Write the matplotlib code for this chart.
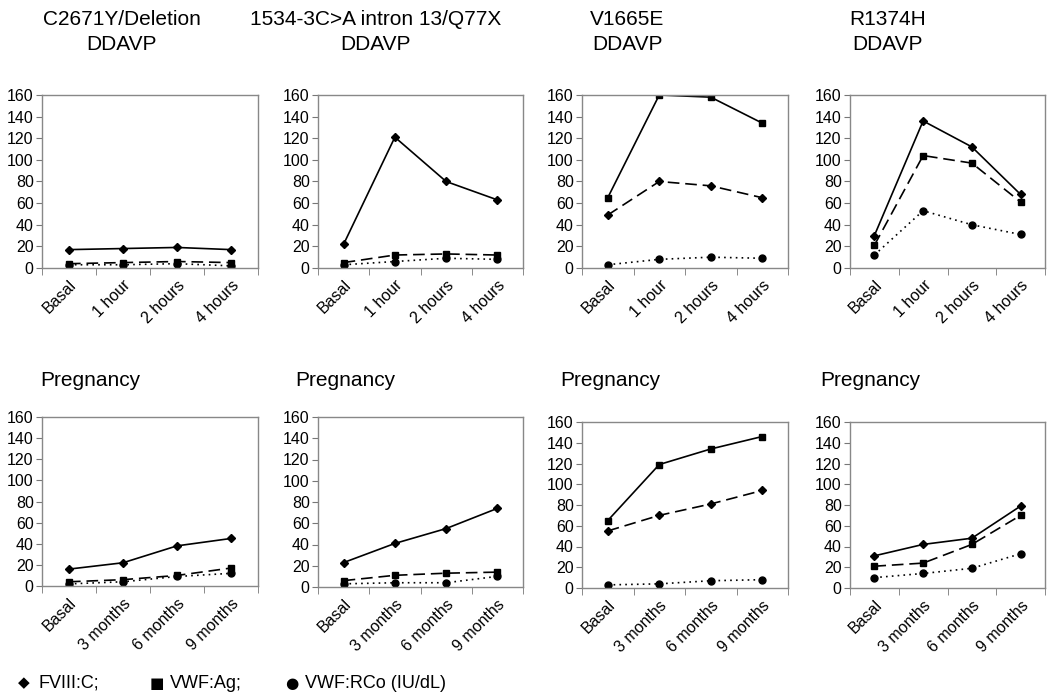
import matplotlib.pyplot as plt

plt.rcParams['font.family'] = ['Liberation Sans', 'DejaVu Sans']

ddavp_labels = ['Basal', '1 hour', '2 hours', '4 hours']
preg_labels = ['Basal', '3 months', '6 months', '9 months']

titles_top = ['C2671Y/Deletion\nDDAVP', '1534-3C>A intron 13/Q77X\nDDAVP', 'V1665E\nDDAVP', 'R1374H\nDDAVP']

# DDAVP values (IU/dL)
ddavp_fviii = [[17, 18, 19, 17], [22, 121, 80, 63], [49, 80, 76, 65], [30, 136, 112, 68]]
ddavp_ag = [[4, 5, 6, 5], [5, 12, 13, 12], [65, 160, 158, 134], [21, 104, 97, 61]]
ddavp_rco = [[3, 3, 4, 2], [3, 6, 9, 8], [3, 8, 10, 9], [12, 53, 40, 31]]

# Pregnancy values (IU/dL)
preg_fviii = [[16, 22, 38, 45], [23, 41, 55, 74], [55, 70, 81, 94], [31, 42, 48, 79]]
preg_ag = [[4, 6, 10, 17], [6, 11, 13, 14], [65, 119, 134, 146], [21, 24, 42, 70]]
preg_rco = [[2, 4, 9, 12], [3, 4, 4, 10], [3, 4, 7, 8], [10, 14, 19, 33]]

legend_symbols = ['\u25c6', '\u25a0', '\u25cf']
legend_texts = ['FVIII:C;', 'VWF:Ag;', 'VWF:RCo (IU/dL)']

W, H = 1047, 696
fig = plt.figure(figsize=(W / 100, H / 100), dpi=100)

lefts = [42, 318, 582, 850]
rights = [258, 523, 788, 1045]
top_row = [(95, 268)] * 4
bot_row = [(417, 586), (417, 587), (422, 588), (422, 588)]
title_x_top = [122, 376, 627, 888]
title_x_bot = [90, 345, 610, 870]

dash = (0, (7, 3.5))
dot = (0, (1, 2.5))


def draw(ax, labels, fviii, ag, rco, swap):
    x = [1, 2, 3, 4]
    lw = 1.2
    if swap:
        ax.plot(x, ag, color='black', lw=lw, ls='-', marker='s', ms=5)
        ax.plot(x, fviii, color='black', lw=lw, ls=dash, marker='D', ms=4)
    else:
        ax.plot(x, fviii, color='black', lw=lw, ls='-', marker='D', ms=4)
        ax.plot(x, ag, color='black', lw=lw, ls=dash, marker='s', ms=5)
    ax.plot(x, rco, color='black', lw=lw, ls=dot, marker='o', ms=5)
    ax.set_xlim(0.5, 4.5)
    ax.set_ylim(0, 160)
    ax.set_yticks(range(0, 161, 20))
    ax.set_xticks(x)
    ax.set_xticklabels(labels, rotation=45, ha='right', rotation_mode='anchor')
    ax.tick_params(axis='x', length=0, pad=7)
    ax.set_xticks([0.5, 1.5, 2.5, 3.5, 4.5], minor=True)
    ax.tick_params(axis='x', which='minor', length=5, color='#777777')
    ax.tick_params(axis='y', length=4, color='#777777', pad=2)
    ax.tick_params(labelsize=11.5)
    for s in ax.spines.values():
        s.set_color('#888888')
        s.set_linewidth(1)


for i in range(4):
    t, b = top_row[i]
    ax = fig.add_axes([lefts[i] / W, 1 - b / H, (rights[i] - lefts[i]) / W, (b - t) / H])
    draw(ax, ddavp_labels, ddavp_fviii[i], ddavp_ag[i], ddavp_rco[i], i == 2)
    fig.text(title_x_top[i] / W, 1 - 32 / H, titles_top[i], ha='center', va='center',
             fontsize=15, linespacing=1.45)

    t, b = bot_row[i]
    ax = fig.add_axes([lefts[i] / W, 1 - b / H, (rights[i] - lefts[i]) / W, (b - t) / H])
    draw(ax, preg_labels, preg_fviii[i], preg_ag[i], preg_rco[i], i == 2)
    fig.text(title_x_bot[i] / W, 1 - 381 / H, 'Pregnancy', ha='center', va='center', fontsize=15)

# legend line at the bottom
ly = 1 - 683 / H
sym_x = [18, 150, 285]
for sx, sym, txt in zip(sym_x, legend_symbols, legend_texts):
    fig.text(sx / W, ly, sym, ha='left', va='center', fontsize=11, family='DejaVu Sans')
    fig.text((sx + 20) / W, ly, txt, ha='left', va='center', fontsize=13)

fig.savefig('out.png', dpi=100)
